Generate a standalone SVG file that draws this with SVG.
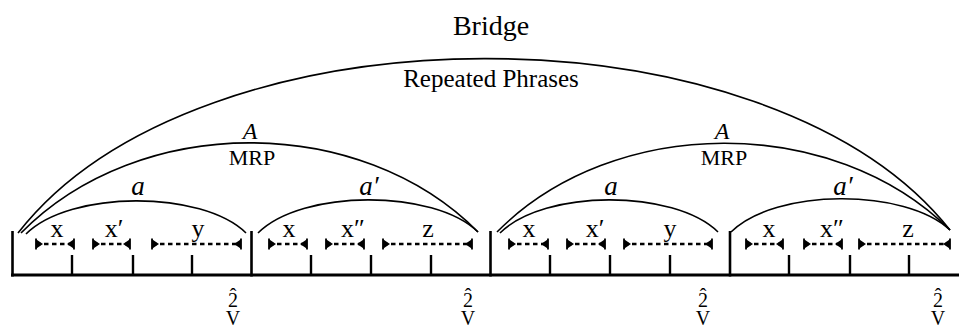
<svg xmlns="http://www.w3.org/2000/svg" width="959" height="328" viewBox="0 0 959 328">
  <style>
    text { font-family: "Liberation Serif", "Times New Roman", serif; fill: #000; text-anchor: middle; }
    .title { font-size: 28px; }
    .rp { font-size: 25px; }
    .cap { font-size: 22px; }
    .big { font-size: 24px; font-style: italic; }
    .small { font-size: 27px; font-style: italic; }
    .lbl { font-size: 26px; }
    .deg { font-size: 20px; }
    .arc { fill: none; stroke: #000; stroke-width: 1.6; }
    .bar { stroke: #000; stroke-width: 2.6; }
    .tick { stroke: #000; stroke-width: 2.4; }
    .base { stroke: #000; stroke-width: 3; }
    .span { stroke: #000; stroke-width: 2.6; stroke-dasharray: 4.5 3.5; marker-start: url(#cap); marker-end: url(#cap); }
  </style>
  <defs>
    <!-- end cap of a span line: flat base with a short bar, point turned inward -->
    <marker id="cap" markerUnits="userSpaceOnUse" markerWidth="12" markerHeight="14" viewBox="-8 -7 10 14" refX="0" refY="0" orient="auto-start-reverse">
      <path d="M0,-4.8 L0,4.8 L-7,0 Z" fill="#000"/>
      <path d="M0,-5.5 V5.5" stroke="#000" stroke-width="1.8"/>
    </marker>
  </defs>

  <!-- headings -->
  <g id="bridge"><text class="title" x="491" y="35">Bridge</text></g>
  <g id="repeated-phrases"><text class="rp" x="491" y="87">Repeated Phrases</text></g>
  <g id="mrp-1">
    <text class="big" x="250" y="139">A</text>
    <text class="cap" x="252" y="165">MRP</text>
  </g>
  <g id="mrp-2">
    <text class="big" x="722" y="139">A</text>
    <text class="cap" x="724" y="165">MRP</text>
  </g>
  <g id="phrase-labels">
    <text class="small" x="138" y="195">a</text>
    <text class="small" x="369" y="195">a′</text>
    <text class="small" x="611" y="195">a</text>
    <text class="small" x="843" y="195">a′</text>
  </g>

  <!-- arcs -->
  <g id="connectors">
    <path class="arc" d="M18,233 C199,1 769,1 950,230"/>
    <path class="arc" d="M21,233 C139,113 360,113 478,232"/>
    <path class="arc" d="M497,232 C614,114 833,114 950,230"/>
    <path class="arc" d="M26,234 C70,190 202,190 246,233"/>
    <path class="arc" d="M258,233 C302,189 434,189 478,232"/>
    <path class="arc" d="M500,233 C544,189 674,189 718,232"/>
    <path class="arc" d="M731,232 C775,188 906,188 950,230"/>
  </g>

  <!-- time line -->
  <g id="timeline">
    <line class="base" x1="11" y1="275" x2="959" y2="275"/>
    <line class="bar" x1="12.5" y1="231" x2="12.5" y2="276.5"/>
    <line class="bar" x1="251.5" y1="231" x2="251.5" y2="276.5"/>
    <line class="bar" x1="490.5" y1="231" x2="490.5" y2="276.5"/>
    <line class="bar" x1="730" y1="231" x2="730" y2="276.5"/>
  </g>

  <g id="segment-1">
    <line class="tick" x1="72" y1="255" x2="72" y2="275"/>
    <line class="tick" x1="133" y1="255" x2="133" y2="275"/>
    <line class="tick" x1="192" y1="255" x2="192" y2="275"/>
    <line class="span" x1="36" y1="244" x2="74" y2="244"/>
    <line class="span" x1="93" y1="244" x2="130" y2="244"/>
    <line class="span" x1="152" y1="244" x2="241" y2="244"/>
    <text class="lbl" x="57" y="237">x</text>
    <text class="lbl" x="114" y="237">x′</text>
    <text class="lbl" x="198" y="237">y</text>
    <text class="deg"><tspan x="233" y="307">2</tspan><tspan x="233" y="303">ˆ</tspan><tspan x="233" y="325">V</tspan></text>
  </g>

  <g id="segment-2">
    <line class="tick" x1="311" y1="255" x2="311" y2="275"/>
    <line class="tick" x1="371" y1="255" x2="371" y2="275"/>
    <line class="tick" x1="431" y1="255" x2="431" y2="275"/>
    <line class="span" x1="269" y1="244" x2="307" y2="244"/>
    <line class="span" x1="326" y1="244" x2="364" y2="244"/>
    <line class="span" x1="383" y1="244" x2="472" y2="244"/>
    <text class="lbl" x="289" y="237">x</text>
    <text class="lbl" x="353" y="237">x″</text>
    <text class="lbl" x="428" y="237">z</text>
    <text class="deg"><tspan x="468" y="307">2</tspan><tspan x="468" y="303">ˆ</tspan><tspan x="468" y="325">V</tspan></text>
  </g>

  <g id="segment-3">
    <line class="tick" x1="550" y1="255" x2="550" y2="275"/>
    <line class="tick" x1="610" y1="255" x2="610" y2="275"/>
    <line class="tick" x1="670" y1="255" x2="670" y2="275"/>
    <line class="span" x1="509" y1="244" x2="548" y2="244"/>
    <line class="span" x1="567" y1="244" x2="605" y2="244"/>
    <line class="span" x1="624" y1="244" x2="712" y2="244"/>
    <text class="lbl" x="529" y="237">x</text>
    <text class="lbl" x="595" y="237">x′</text>
    <text class="lbl" x="670" y="237">y</text>
    <text class="deg"><tspan x="703" y="307">2</tspan><tspan x="703" y="303">ˆ</tspan><tspan x="703" y="325">V</tspan></text>
  </g>

  <g id="segment-4">
    <line class="tick" x1="789" y1="255" x2="789" y2="275"/>
    <line class="tick" x1="850" y1="255" x2="850" y2="275"/>
    <line class="tick" x1="909" y1="255" x2="909" y2="275"/>
    <line class="span" x1="746" y1="244" x2="783" y2="244"/>
    <line class="span" x1="804" y1="244" x2="842" y2="244"/>
    <line class="span" x1="859" y1="244" x2="950" y2="244"/>
    <text class="lbl" x="769" y="237">x</text>
    <text class="lbl" x="832" y="237">x″</text>
    <text class="lbl" x="908" y="237">z</text>
    <text class="deg"><tspan x="938" y="307">2</tspan><tspan x="938" y="303">ˆ</tspan><tspan x="938" y="325">V</tspan></text>
  </g>
</svg>
